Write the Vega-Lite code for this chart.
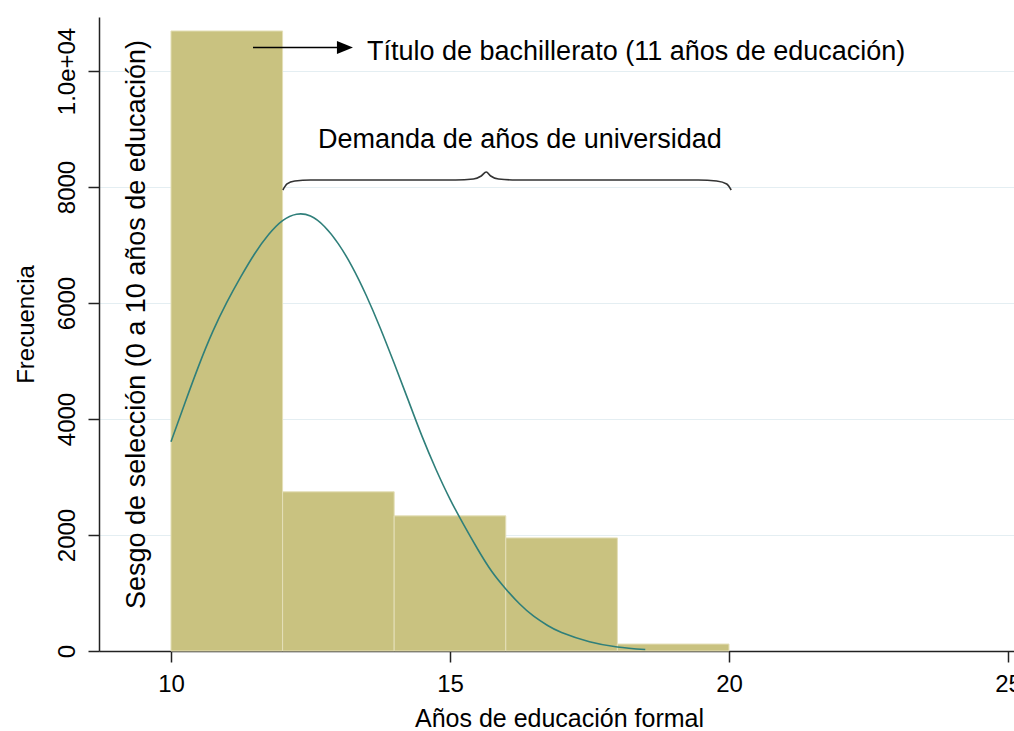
{
  "$schema": "https://vega.github.io/schema/vega-lite/v6.json",
  "width": 915,
  "height": 634,
  "autosize": {"type": "none"},
  "padding": {"left": 99, "top": 17, "right": 0, "bottom": 80},
  "background": "white",
  "config": {"view": {"stroke": null}, "font": "Liberation Sans"},
  "datasets": {
    "bars": [
      {"x": 10, "xe": 12, "y": 10690},
      {"x": 12, "xe": 14, "y": 2745},
      {"x": 14, "xe": 16, "y": 2330},
      {"x": 16, "xe": 18, "y": 1950},
      {"x": 18, "xe": 20, "y": 120}
    ],
    "curve": [
      {"x": 10.0, "y": 3609}, {"x": 10.25, "y": 4276}, {"x": 10.5, "y": 4925},
      {"x": 10.75, "y": 5510}, {"x": 11.0, "y": 6010}, {"x": 11.25, "y": 6450},
      {"x": 11.5, "y": 6850}, {"x": 11.75, "y": 7180}, {"x": 12.0, "y": 7420},
      {"x": 12.25, "y": 7530}, {"x": 12.5, "y": 7500}, {"x": 12.75, "y": 7320},
      {"x": 13.0, "y": 7020}, {"x": 13.25, "y": 6620}, {"x": 13.5, "y": 6130},
      {"x": 13.75, "y": 5570}, {"x": 14.0, "y": 4960}, {"x": 14.25, "y": 4330},
      {"x": 14.5, "y": 3700}, {"x": 14.75, "y": 3130}, {"x": 15.0, "y": 2620},
      {"x": 15.25, "y": 2170}, {"x": 15.5, "y": 1750}, {"x": 15.75, "y": 1370},
      {"x": 16.0, "y": 1070}, {"x": 16.25, "y": 810}, {"x": 16.5, "y": 600},
      {"x": 16.75, "y": 440}, {"x": 17.0, "y": 320}, {"x": 17.5, "y": 160},
      {"x": 18.0, "y": 70}, {"x": 18.5, "y": 25}
    ],
    "brace": [
      {"x": 12.005, "y": 7948}, {"x": 12.08, "y": 8052}, {"x": 12.22, "y": 8103},
      {"x": 12.5, "y": 8121}, {"x": 15.1, "y": 8121}, {"x": 15.42, "y": 8138},
      {"x": 15.56, "y": 8190}, {"x": 15.65, "y": 8259}, {"x": 15.73, "y": 8190},
      {"x": 15.87, "y": 8138}, {"x": 16.2, "y": 8121}, {"x": 19.45, "y": 8121},
      {"x": 19.78, "y": 8103}, {"x": 19.96, "y": 8052}, {"x": 20.04, "y": 7948}
    ],
    "arrow": [{"x": 11.47, "xe": 13.05, "y": 10405}],
    "arrowhead": [{"x": 13.118, "y": 10405}],
    "note1": [{"x": 13.513, "y": 10190, "label": "Título de bachillerato (11 años de educación)"}],
    "note2": [{"x": 16.254, "y": 8672, "label": "Demanda de años de universidad"}],
    "note3": [{"x": 9.534, "y": 5629, "label": "Sesgo de selección (0 a 10 años de educación)"}]
  },
  "layer": [
    {
      "data": {"name": "bars"},
      "mark": {"type": "rect", "fill": "#c9c280", "stroke": "#e4dfb8", "strokeWidth": 1},
      "encoding": {
        "x": {
          "field": "x", "type": "quantitative",
          "scale": {"domain": [8.71, 25.108], "nice": false, "zero": false},
          "axis": {
            "title": "Años de educación formal",
            "values": [10, 15, 20, 25],
            "format": "d",
            "grid": false,
            "domainColor": "#222", "domainWidth": 1.5,
            "tickColor": "#222", "tickSize": 11, "tickWidth": 1.5,
            "labelFontSize": 24, "labelColor": "#000", "labelPadding": 10,
            "labelFlush": false, "labelOverlap": false,
            "titleFontSize": 25, "titleFontWeight": "normal", "titleColor": "#000",
            "titleBaseline": "alphabetic", "titleAlign": "center",
            "titleX": 460, "titleY": 75
          }
        },
        "x2": {"field": "xe"},
        "y": {
          "field": "y", "type": "quantitative",
          "scale": {"domain": [0, 10931], "nice": false, "zero": true},
          "axis": {
            "title": "Frecuencia",
            "values": [0, 2000, 4000, 6000, 8000, 10000],
            "labelExpr": "datum.value == 10000 ? '1.0e+04' : format(datum.value, 'd')",
            "grid": true, "gridColor": "#e4eef2", "gridWidth": 1.2,
            "domainColor": "#222", "domainWidth": 1.5,
            "tickColor": "#222", "tickSize": 11, "tickWidth": 1.5,
            "labelAngle": 270, "labelAlign": "center", "labelBaseline": "bottom",
            "labelFontSize": 24, "labelColor": "#000", "labelPadding": 9,
            "labelFlush": false, "labelOverlap": false,
            "titleFontSize": 24, "titleFontWeight": "normal", "titleColor": "#000",
            "titleAngle": 270, "titleBaseline": "alphabetic", "titleAlign": "center",
            "titleX": -66, "titleY": 307
          }
        },
        "y2": {"datum": 0}
      }
    },
    {
      "data": {"name": "curve"},
      "mark": {"type": "line", "color": "#2f7f7a", "strokeWidth": 1.6, "interpolate": "natural"},
      "encoding": {
        "x": {"field": "x", "type": "quantitative"},
        "y": {"field": "y", "type": "quantitative"}
      }
    },
    {
      "data": {"name": "brace"},
      "mark": {"type": "line", "color": "#333333", "strokeWidth": 1.6, "interpolate": "monotone"},
      "encoding": {
        "x": {"field": "x", "type": "quantitative"},
        "y": {"field": "y", "type": "quantitative"}
      }
    },
    {
      "data": {"name": "arrow"},
      "mark": {"type": "rule", "color": "#000", "strokeWidth": 1.6},
      "encoding": {
        "x": {"field": "x", "type": "quantitative"},
        "x2": {"field": "xe"},
        "y": {"field": "y", "type": "quantitative"}
      }
    },
    {
      "data": {"name": "arrowhead"},
      "mark": {"type": "point", "shape": "M-1,-0.8L1,0L-1,0.8Z", "filled": true, "color": "#000", "size": 256, "opacity": 1},
      "encoding": {
        "x": {"field": "x", "type": "quantitative"},
        "y": {"field": "y", "type": "quantitative"}
      }
    },
    {
      "data": {"name": "note1"},
      "mark": {"type": "text", "align": "left", "baseline": "alphabetic", "fontSize": 27, "color": "#000"},
      "encoding": {
        "x": {"field": "x", "type": "quantitative"},
        "y": {"field": "y", "type": "quantitative"},
        "text": {"field": "label"}
      }
    },
    {
      "data": {"name": "note2"},
      "mark": {"type": "text", "align": "center", "baseline": "alphabetic", "fontSize": 27, "color": "#000"},
      "encoding": {
        "x": {"field": "x", "type": "quantitative"},
        "y": {"field": "y", "type": "quantitative"},
        "text": {"field": "label"}
      }
    },
    {
      "data": {"name": "note3"},
      "mark": {"type": "text", "align": "center", "baseline": "alphabetic", "angle": 270, "fontSize": 27, "color": "#000"},
      "encoding": {
        "x": {"field": "x", "type": "quantitative"},
        "y": {"field": "y", "type": "quantitative"},
        "text": {"field": "label"}
      }
    }
  ]
}
